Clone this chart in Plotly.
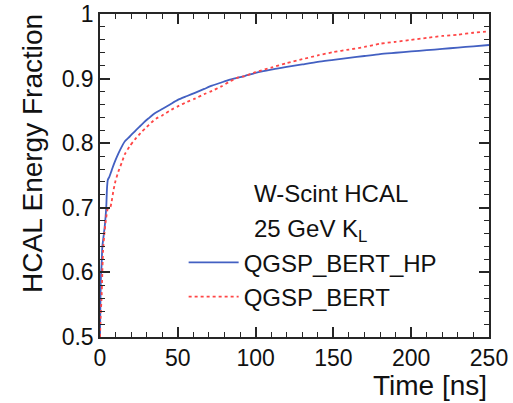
import plotly.graph_objects as go

# Cumulative HCAL energy fraction versus time, 25 GeV K_L in a W-Scint HCAL
time_hp = [0, 0.3, 0.7, 1, 1.5, 2, 3, 4, 4.5, 5, 6, 7.5, 9, 10.7, 13, 16, 19, 23,
           26, 29, 32, 35, 40, 45, 50, 56, 61, 67, 72, 78, 83, 88, 93, 100, 110,
           120, 130, 140, 150, 160, 170, 180, 190, 200, 210, 220, 230, 240, 250]
frac_hp = [0.5, 0.56, 0.60, 0.61, 0.64, 0.65, 0.67, 0.70, 0.73, 0.743, 0.748,
           0.758, 0.768, 0.778, 0.79, 0.803, 0.81, 0.82, 0.827, 0.834, 0.840,
           0.846, 0.853, 0.86, 0.867, 0.873, 0.878, 0.884, 0.889, 0.894, 0.898,
           0.901, 0.904, 0.909, 0.914, 0.918, 0.922, 0.926, 0.929, 0.932, 0.935,
           0.938, 0.940, 0.942, 0.944, 0.946, 0.948, 0.950, 0.952]

time_bert = [0, 0.5, 1, 1.5, 2, 3, 4, 5, 6.5, 7.5, 8.5, 10, 11.8, 14, 16, 19,
             22.5, 27, 30, 33, 36, 40, 46, 50, 56, 61, 67, 72, 78, 83, 88, 93,
             100, 110, 120, 130, 140, 150, 160, 170, 180, 190, 200, 210, 220,
             230, 240, 250]
frac_bert = [0.5, 0.537, 0.56, 0.60, 0.635, 0.665, 0.685, 0.698, 0.70, 0.71,
             0.725, 0.742, 0.756, 0.77, 0.783, 0.795, 0.806, 0.818, 0.825, 0.832,
             0.838, 0.843, 0.852, 0.857, 0.864, 0.869, 0.876, 0.881, 0.888, 0.895,
             0.901, 0.904, 0.910, 0.917, 0.924, 0.930, 0.936, 0.941, 0.945, 0.949,
             0.954, 0.957, 0.960, 0.963, 0.966, 0.968, 0.971, 0.973]

series_names = ["QGSP_BERT_HP", "QGSP_BERT"]
x_ticks = [0, 50, 100, 150, 200, 250]
y_ticks = [0.5, 0.6, 0.7, 0.8, 0.9, 1.0]
y_tick_text = ["0.5", "0.6", "0.7", "0.8", "0.9", "1"]

FONT = "Liberation Sans, Arial, Helvetica, sans-serif"
AXIS_COLOR = "#262626"

fig = go.Figure()
fig.add_trace(go.Scatter(
    x=time_hp, y=frac_hp, mode="lines", name=series_names[0],
    line=dict(color="#4360c2", width=1.8, shape="spline", smoothing=0.6),
))
fig.add_trace(go.Scatter(
    x=time_bert, y=frac_bert, mode="lines", name=series_names[1],
    line=dict(color="#ff4646", width=1.8, dash="dot", shape="spline",
              smoothing=0.6),
))

axis_common = dict(
    showline=True, linecolor=AXIS_COLOR, linewidth=1.5, mirror="ticks",
    ticks="inside", ticklen=10, tickwidth=1.5, tickcolor=AXIS_COLOR,
    showgrid=False, zeroline=False, automargin=False,
    tickfont=dict(family=FONT, size=23, color="#111"),
)

fig.update_xaxes(
    range=[0, 250], tickvals=x_ticks,
    minor=dict(dtick=10, ticks="inside", ticklen=5, tickwidth=1.2,
               tickcolor=AXIS_COLOR, showgrid=False),
    **axis_common,
)
fig.update_yaxes(
    range=[0.5, 1.0], tickvals=y_ticks, ticktext=y_tick_text,
    minor=dict(dtick=0.02, ticks="inside", ticklen=5, tickwidth=1.2,
               tickcolor=AXIS_COLOR, showgrid=False),
    **axis_common,
)

fig.add_annotation(
    text="Time [ns]", xref="paper", yref="paper", x=1.0, y=-0.095,
    xanchor="right", yanchor="top", showarrow=False,
    font=dict(family=FONT, size=28, color="#111"),
)
fig.add_annotation(
    text="HCAL Energy Fraction", xref="paper", yref="paper", x=-0.172, y=0.567,
    xanchor="center", yanchor="middle", textangle=-90, showarrow=False,
    font=dict(family=FONT, size=28, color="#111"),
)
fig.add_annotation(
    text="W-Scint HCAL", xref="paper", yref="paper", x=0.39, y=0.443,
    xanchor="left", yanchor="middle", showarrow=False,
    font=dict(family=FONT, size=24, color="#111"),
)
fig.add_annotation(
    text="25 GeV K<sub>L</sub>", xref="paper", yref="paper", x=0.39, y=0.33,
    xanchor="left", yanchor="middle", showarrow=False,
    font=dict(family=FONT, size=24, color="#111"),
)

fig.update_layout(
    width=513, height=403,
    margin=dict(l=100, r=24, t=14, b=66),
    paper_bgcolor="white", plot_bgcolor="white",
    showlegend=True,
    legend=dict(
        x=0.215, y=0.177, xanchor="left", yanchor="middle",
        bgcolor="rgba(0,0,0,0)", borderwidth=0,
        font=dict(family=FONT, size=24, color="#111"),
        itemwidth=50, tracegroupgap=0,
    ),
)

fig.write_html("out.html")
